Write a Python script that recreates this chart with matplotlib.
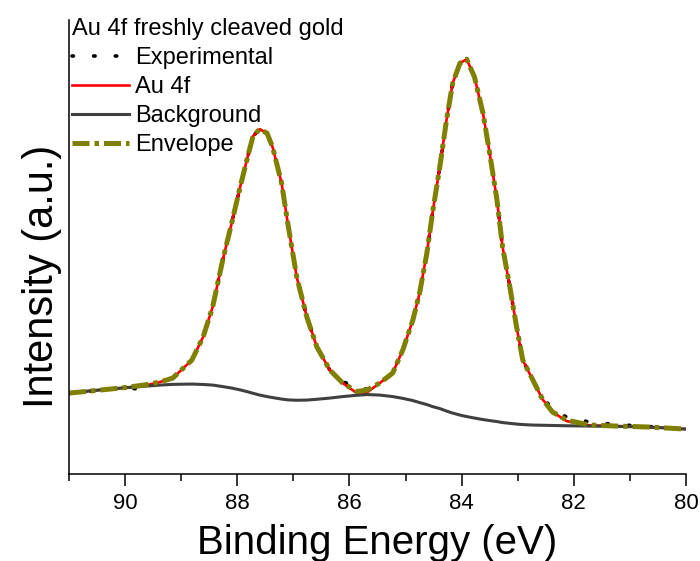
import matplotlib
matplotlib.use("Agg")
import matplotlib.pyplot as plt

plt.rcParams['font.family'] = ['Liberation Sans', 'DejaVu Sans']

# binding energy grid (eV)
energy = [91.00, 90.57, 89.97, 89.61, 89.38, 89.15, 88.81, 88.61, 88.44, 88.26,
          88.10, 87.95, 87.83, 87.72, 87.60, 87.47, 87.37, 87.21, 87.10, 86.94,
          86.76, 86.58, 86.35, 86.12, 85.87, 85.69, 85.46, 85.23, 85.05, 84.87,
          84.75, 84.62, 84.52, 84.39, 84.27, 84.16, 84.03, 83.91, 83.77, 83.62,
          83.50, 83.37, 83.27, 83.14, 83.02, 82.91, 82.73, 82.56, 82.38, 82.13,
          81.72, 81.24, 80.65, 80.01]

experimental = [8100, 8330, 8600, 8450, 9200, 9600, 11400, 13700, 16700, 21400,
                25100, 28700, 31400, 33800, 34500, 34100, 32700, 29100, 25100, 19700,
                15700, 12700, 10400, 9300, 8500, 8500, 9100, 10100, 12400, 15400,
                18100, 22100, 26100, 30700, 35400, 39100, 41100, 41500, 39700, 36100,
                32100, 27400, 22700, 18700, 14700, 11400, 9400, 7700, 6500, 5700,
                5200, 4950, 4750, 4500]

au4f = [8100, 8350, 8650, 8900, 9200, 9600, 11400, 13700, 16700, 21400,
        25100, 28700, 31400, 33800, 34500, 34100, 32700, 29100, 25100, 19700,
        15700, 12700, 10400, 9100, 8100, 8150, 9100, 10100, 12400, 15400,
        18100, 22100, 26100, 30700, 35400, 39100, 41100, 41500, 39700, 36100,
        32100, 27400, 22700, 18700, 14700, 11400, 9400, 7500, 6200, 5300,
        4870, 4800, 4700, 4500]

background = [8100, 8350, 8650, 8800, 8900, 8970, 9000, 8960, 8900, 8750,
              8600, 8420, 8250, 8080, 7900, 7750, 7650, 7500, 7420, 7380,
              7400, 7480, 7600, 7750, 7880, 7950, 7900, 7750, 7570, 7350,
              7150, 6950, 6750, 6550, 6300, 6100, 5900, 5750, 5600, 5450,
              5350, 5250, 5150, 5070, 5000, 4950, 4900, 4880, 4860, 4830,
              4800, 4770, 4700, 4500]

envelope = [8100, 8330, 8670, 8950, 9200, 9600, 11400, 13700, 16700, 21400,
            25100, 28700, 31400, 33800, 34500, 34100, 32700, 29100, 25100, 19700,
            15700, 12700, 10400, 9100, 8250, 8400, 9100, 10100, 12400, 15400,
            18100, 22100, 26100, 30700, 35400, 39100, 41100, 41500, 39700, 36100,
            32100, 27400, 22700, 18700, 14700, 11400, 9400, 7500, 6200, 5400,
            4900, 4800, 4700, 4500]

fig = plt.figure(figsize=(7, 5.61), dpi=100)
ax = fig.add_axes([0.0986, 0.155, 0.8814, 0.809])

ax.plot(energy, experimental, color='black', lw=2.6, linestyle=(0, (0.4, 5.6)),
        dash_capstyle='round', label='Experimental')
ax.plot(energy, au4f, color='#ff0000', lw=1.9, label='Au 4f')
ax.plot(energy, background, color='#404040', lw=2.2, label='Background')
ax.plot(energy, envelope, color='#808000', lw=3.6, linestyle=(0, (3.4, 1.0, 0.9, 1.0)),
        label='Envelope')

ax.set_xlim(91, 80)
ax.set_ylim(0, 45400)
ax.set_xticks([90, 88, 86, 84, 82, 80])
ax.set_xticks([91, 89, 87, 85, 83, 81], minor=True)
ax.set_yticks([])
ax.spines['top'].set_visible(False)
ax.spines['right'].set_visible(False)
ax.spines['left'].set_linewidth(1.1)
ax.spines['bottom'].set_linewidth(1.1)
ax.tick_params(axis='x', which='major', length=8.6, width=1.1, labelsize=16, pad=5)
ax.tick_params(axis='x', which='minor', length=5, width=1.1)

ax.set_xlabel('Binding Energy (eV)', fontsize=29, labelpad=7)
ax.set_ylabel('Intensity (a.u.)', fontsize=30, labelpad=5, y=0.436)

leg = ax.legend(title='Au 4f freshly cleaved gold', fontsize=17, title_fontsize=17,
                loc='upper left', bbox_to_anchor=(0.005, 1.005), frameon=False,
                handlelength=2.4, handletextpad=0.25, labelspacing=0.3,
                borderaxespad=0, borderpad=0.0, alignment='left')

fig.savefig('out.png', dpi=100)
